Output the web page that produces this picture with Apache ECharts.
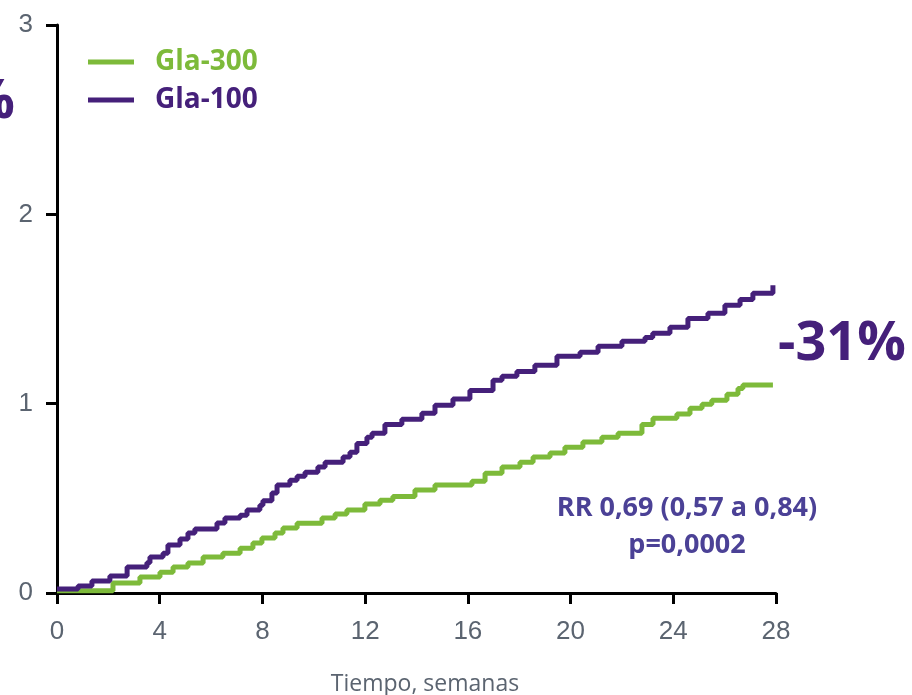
<!DOCTYPE html>
<html>
<head>
<meta charset="utf-8">
<script src="https://cdn.jsdelivr.net/npm/echarts@6/dist/echarts.min.js"></script>
<style>
  html, body { margin: 0; padding: 0; background: #fff; }
  #chart { width: 912px; height: 695px; }
</style>
</head>
<body>
<div id="chart"></div>
<script>
// Kaplan-Meier style step curves, [week, cumulative %] where each step starts.
const gla300 = [
  [0, 0.012], [2.18, 0.053], [3.23, 0.084], [4.01, 0.11], [4.52, 0.137], [5.1, 0.158],
  [5.69, 0.19], [6.46, 0.21], [7.13, 0.237], [7.63, 0.264], [7.98, 0.29], [8.49, 0.317],
  [8.8, 0.343], [9.35, 0.369], [10.32, 0.396], [10.83, 0.417], [11.29, 0.438], [11.99, 0.47],
  [12.58, 0.49], [13.08, 0.51], [13.94, 0.544], [14.72, 0.57], [16.16, 0.59], [16.67, 0.633],
  [17.33, 0.665], [18.03, 0.69], [18.54, 0.718], [19.2, 0.739], [19.78, 0.77], [20.48, 0.797],
  [21.22, 0.823], [21.85, 0.844], [22.78, 0.89], [23.21, 0.923], [24.14, 0.945], [24.65, 0.976],
  [25.12, 0.997], [25.5, 1.018], [26.09, 1.05], [26.52, 1.08], [26.71, 1.098], [27.88, 1.098]
];
const gla100 = [
  [0, 0.021], [0.82, 0.037], [1.36, 0.063], [2.06, 0.09], [2.73, 0.137], [3.5, 0.16],
  [3.62, 0.19], [4.13, 0.21], [4.32, 0.253], [4.79, 0.285], [5.1, 0.317], [5.37, 0.338],
  [6.23, 0.37], [6.54, 0.396], [7.13, 0.41], [7.4, 0.438], [7.9, 0.464], [8.02, 0.487],
  [8.37, 0.528], [8.57, 0.57], [9.07, 0.596], [9.35, 0.617], [9.66, 0.638], [10.16, 0.665],
  [10.44, 0.69], [11.14, 0.718], [11.41, 0.744], [11.68, 0.79], [12.07, 0.823], [12.27, 0.844],
  [12.77, 0.89], [13.43, 0.918], [14.21, 0.95], [14.72, 0.992], [15.42, 1.024], [16.08, 1.07],
  [16.98, 1.124], [17.33, 1.145], [17.91, 1.17], [18.61, 1.203], [19.47, 1.25], [20.37, 1.272],
  [21.07, 1.303], [22.0, 1.33], [22.9, 1.35], [23.2, 1.372], [23.87, 1.404], [24.57, 1.45],
  [25.35, 1.478], [26.01, 1.52], [26.6, 1.55], [27.1, 1.583], [27.88, 1.625]
];
const seriesNames = ['Gla-300', 'Gla-100'];
const xTicks = [0, 4, 8, 12, 16, 20, 24, 28];
const yTicks = [0, 1, 2, 3];

const GREEN = '#7dba3a';
const PURPLE = '#45207a';
const RR_COLOR = '#4b4196';
const AXIS_TEXT = '#5b6470';

const chart = echarts.init(document.getElementById('chart'), null, { renderer: 'canvas' });

const axisCommon = {
  axisLine: { show: true, lineStyle: { color: '#000', width: 3 } },
  axisTick: { show: true, length: 11, lineStyle: { color: '#000', width: 3 } },
  splitLine: { show: false },
  axisLabel: { color: AXIS_TEXT, fontSize: 26, fontFamily: 'Liberation Sans, Arial, sans-serif' }
};

chart.setOption({
  animation: false,
  backgroundColor: '#fff',
  grid: { left: 57, right: 136, top: 25, bottom: 102 },
  xAxis: Object.assign({}, axisCommon, {
    type: 'value', min: xTicks[0], max: xTicks[xTicks.length - 1], interval: 4,
    axisLabel: Object.assign({}, axisCommon.axisLabel, { margin: 26 })
  }),
  yAxis: Object.assign({}, axisCommon, {
    type: 'value', min: yTicks[0], max: yTicks[yTicks.length - 1], interval: 1,
    axisLabel: Object.assign({}, axisCommon.axisLabel, { margin: 24 })
  }),
  legend: {
    left: 88, top: 48, orient: 'vertical', itemGap: 10, padding: 0,
    itemWidth: 46, itemHeight: 5,
    icon: 'rect',
    textStyle: { fontSize: 28, fontWeight: 'bold', fontFamily: 'Open Sans, sans-serif', padding: [0, 0, 0, 16] },
    data: [
      { name: seriesNames[0], textStyle: { color: GREEN } },
      { name: seriesNames[1], textStyle: { color: PURPLE } }
    ]
  },
  series: [
    {
      name: seriesNames[0], type: 'line', step: 'end', data: gla300,
      showSymbol: false, color: GREEN, lineStyle: { width: 5, color: GREEN }, z: 2
    },
    {
      name: seriesNames[1], type: 'line', step: 'end', data: gla100,
      showSymbol: false, color: PURPLE, lineStyle: { width: 5, color: PURPLE }, z: 3
    }
  ],
  graphic: [
    {
      type: 'text', x: 778, y: 345,
      style: { text: '-31%', fill: PURPLE, font: 'bold 54px "Open Sans", sans-serif', verticalAlign: 'middle' }
    },
    {
      type: 'text', x: 15, y: 103,
      style: { text: '%', fill: PURPLE, font: 'bold 54px "Open Sans", sans-serif', align: 'right', verticalAlign: 'middle' }
    },
    {
      type: 'text', x: 687, y: 508,
      style: { text: 'RR 0,69 (0,57 a 0,84)', fill: RR_COLOR, font: 'bold 27px "Open Sans", sans-serif', align: 'center', verticalAlign: 'middle' }
    },
    {
      type: 'text', x: 687, y: 545,
      style: { text: 'p=0,0002', fill: RR_COLOR, font: 'bold 27px "Open Sans", sans-serif', align: 'center', verticalAlign: 'middle' }
    },
    {
      type: 'text', x: 425, y: 684,
      style: { text: 'Tiempo, semanas', fill: AXIS_TEXT, font: '23px "Open Sans", sans-serif', align: 'center', verticalAlign: 'middle' }
    }
  ]
});
</script>
</body>
</html>
